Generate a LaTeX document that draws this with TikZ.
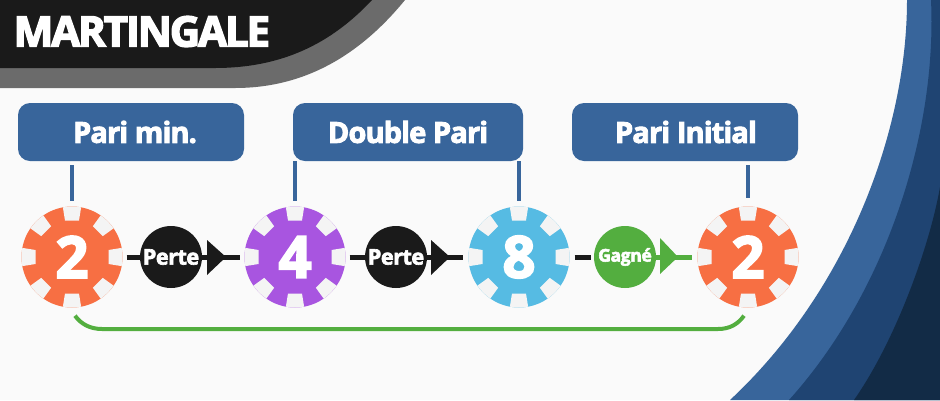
\documentclass[tikz,border=0pt]{standalone}
\usepackage{fontspec}
\setmainfont{Open Sans}[BoldFeatures={FakeBold=3}]
\newfontfamily\tightfont{Open Sans}[BoldFeatures={FakeBold=3.5,LetterSpace=-5}]
\newfontfamily\midfont{Open Sans}[BoldFeatures={FakeBold=3,LetterSpace=-3}]
\newfontfamily\badgefont{Open Sans}[BoldFeatures={FakeBold=3,LetterSpace=-2}]
\usetikzlibrary{arrows.meta}
\definecolor{bgc}{HTML}{FAFAFA}
\definecolor{blueA}{HTML}{38659B}
\definecolor{blueB}{HTML}{1F4472}
\definecolor{blueC}{HTML}{122B46}
\definecolor{ink}{HTML}{1A1A1A}
\definecolor{grayband}{HTML}{6B6B6B}
\definecolor{slot}{HTML}{F4F4F4}
\definecolor{orangec}{HTML}{F76F43}
\definecolor{purplec}{HTML}{A855E0}
\definecolor{skyc}{HTML}{56BBE3}
\definecolor{greenc}{HTML}{53AE3F}
\tikzset{
  x=1pt,y=-1pt,
  chiptext/.style={circle,minimum size=101pt,inner sep=0pt,text=white,font=\fontsize{58}{58}\selectfont\bfseries},
  labelbox/.style={rectangle,rounded corners=12pt,fill=blueA,text=white,minimum height=58pt,inner sep=0pt,font=\midfont\bfseries\fontsize{29}{30}\selectfont},
  badge/.style={circle,minimum size=62pt,inner sep=0pt,text=white},
  stem/.style={draw=blueA,line width=4pt},
  link/.style={line width=5pt,draw=ink},
  glink/.style={line width=5pt,draw=greenc},
  loopline/.style={line width=4pt,draw=greenc},
}
\newcommand{\chipdisc}[3]{%
  \fill[#3] (#1,#2) circle (50.5);
  \begin{scope}
    \clip (#1,#2) circle (50.5);
    \foreach \a in {0,45,...,315}{
      \fill[slot,shift={(#1,#2)},rotate=\a] (-7,-36.5) -- (7,-36.5) -- (9.5,-52) -- (-9.5,-52) -- cycle;
    }
  \end{scope}
}
\begin{document}
\begin{tikzpicture}
\useasboundingbox (0,0) rectangle (940,400);
\fill[bgc] (0,0) rectangle (940,400);
% right bands
\fill[blueA] (907,0) .. controls (907,130) and (848,290) .. (730,400) -- (940,400) -- (940,0) -- cycle;
\fill[blueB] (931,0) .. controls (937,130) and (888,290) .. (789,400) -- (940,400) -- (940,0) -- cycle;
\fill[blueC] (940,187) .. controls (930,245) and (896,340) .. (854,400) -- (940,400) -- cycle;
% top-left bands
\fill[grayband] (0,0) -- (405,0) .. controls (360,55) and (305,88) .. (235,88) -- (0,88) -- cycle;
\fill[ink] (0,0) -- (372,0) .. controls (330,45) and (280,68) .. (215,68) -- (0,68) -- cycle;
\node[anchor=west,text=white,inner sep=0pt,font=\tightfont\bfseries\fontsize{42}{44}\selectfont] (title) at (13.5,31.5) {MARTINGALE};
% chips
\chipdisc{72}{257}{orangec}
\chipdisc{295}{257}{purplec}
\chipdisc{519}{257}{skyc}
\chipdisc{748}{257}{orangec}
\node[chiptext] (c1) at (72,257) {2};
\node[chiptext] (c2) at (295,257) {4};
\node[chiptext] (c3) at (519,257) {8};
\node[chiptext] (c4) at (748,257) {2};
% boxes
\node[labelbox,minimum width=226pt] (b1) at (131,132) {\hspace*{8pt}Pari min.};
\node[labelbox,minimum width=230pt] (b2) at (408,132) {Double Pari};
\node[labelbox,minimum width=226pt] (b3) at (685,132) {\hspace*{2pt}Pari Initial};
% stems
\draw[stem,shorten <=4pt,shorten >=5pt] (b1.south -| c1.north) -- (c1.north);
\draw[stem,shorten >=5pt] (b2.south -| c2.north) -- (c2.north);
\draw[stem,shorten >=5pt] (b2.south -| c3.north) -- (c3.north);
\draw[stem,shorten <=4pt,shorten >=8pt] (b3.south -| c4.north) -- (c4.north);
% badges
\coordinate (t1) at (226,257);
\coordinate (t2) at (450,257);
\coordinate (t3) at (678,257);
\draw[link,shorten <=4pt] (c1.east) -- (t1);
\draw[link,shorten >=4pt] (t1) -- (c2.west);
\draw[link,shorten <=4pt] (c2.east) -- (t2);
\draw[link,shorten >=5pt] (t2) -- (c3.west);
\draw[link,shorten <=5pt,shorten >=3pt] (c3.east) -- (594,257);
\draw[glink] (625,257) -- (t3);
\draw[glink,shorten >=5pt] (t3) -- (c4.west);
\fill[ink] (207,240) -- (t1) -- (207,275) -- cycle;
\fill[ink] (431,240) -- (t2) -- (431,275) -- cycle;
\fill[greenc] (660,238) -- (t3) -- (660,274) -- cycle;
\node[badge,fill=ink,font=\badgefont\bfseries\fontsize{21.5}{22}\selectfont] (p1) at (171,257) {Perte};
\node[badge,fill=ink,font=\badgefont\bfseries\fontsize{21.5}{22}\selectfont] (p2) at (396,257) {Perte};
\node[badge,fill=greenc,font=\badgefont\bfseries\fontsize{17.5}{18}\selectfont] (p3) at (625,257) {Gagné};
% return line
\coordinate (r1) at ([shift={(3,8)}]c1.south);
\coordinate (r2) at ([shift={(-4,8)}]c4.south);
\draw[loopline] (r1) .. controls (81,324) and (90,329) .. (102,329) -- (718,329) .. controls (730,329) and (738,324) .. (r2);
\end{tikzpicture}
\end{document}
